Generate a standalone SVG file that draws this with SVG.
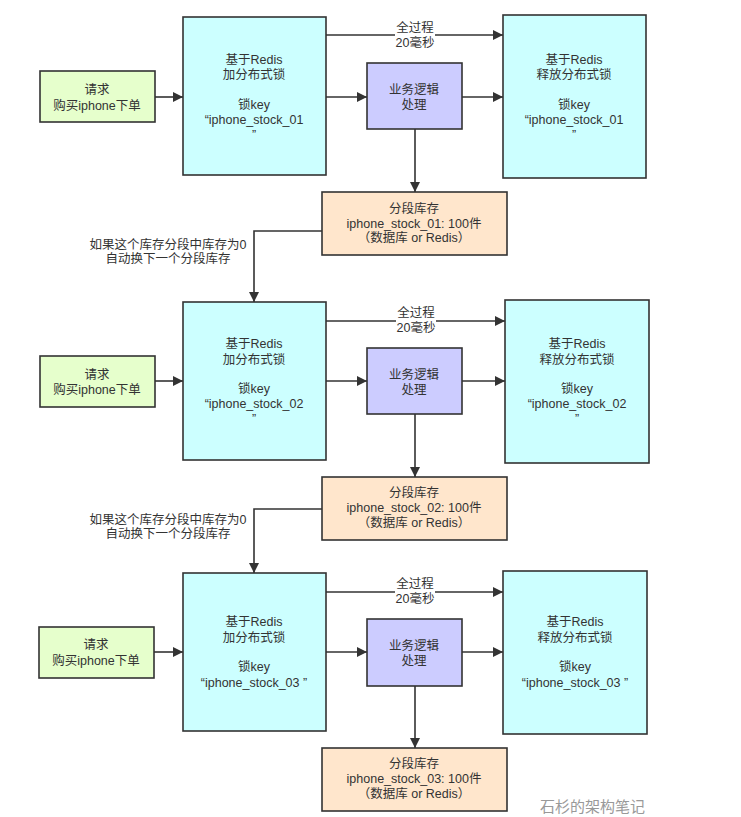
<svg xmlns="http://www.w3.org/2000/svg" width="741" height="817" viewBox="0 0 741 817">
<defs>
<marker id="ah" viewBox="0 0 10 10" refX="10" refY="5" markerWidth="10" markerHeight="10" markerUnits="userSpaceOnUse" orient="auto">
<path d="M0,0 L10,5 L0,10 Z" fill="#333"/>
</marker>
<style>
.box{stroke:#333;stroke-width:1.6}
.req{fill:#e6ffcc}
.lock{fill:#ccffff}
.biz{fill:#ccccff}
.stk{fill:#ffe6cc}
text{font-family:"Liberation Sans","Noto Sans CJK SC",sans-serif;font-size:12.5px;fill:#333;text-anchor:middle}
.ln{fill:none;stroke:#333;stroke-width:1.6;marker-end:url(#ah)}
.wm{font-family:"Liberation Sans","Noto Sans CJK SC",sans-serif;font-size:15px;fill:#999;text-anchor:start}
</style>
</defs>
<rect width="741" height="817" fill="#fff"/>

<g id="connectors">
<!-- section 1 -->
<line class="ln" x1="155" y1="97" x2="183" y2="97"/>
<line class="ln" x1="326" y1="97" x2="367" y2="97"/>
<line class="ln" x1="462" y1="97" x2="503" y2="97"/>
<line class="ln" x1="326" y1="35" x2="503" y2="35"/>
<line class="ln" x1="415" y1="129" x2="415" y2="192"/>
<polyline class="ln" points="322,231 254,231 254,302"/>
<!-- section 2 -->
<line class="ln" x1="155" y1="381" x2="183" y2="381"/>
<line class="ln" x1="326" y1="381" x2="367" y2="381"/>
<line class="ln" x1="462" y1="381" x2="505" y2="381"/>
<line class="ln" x1="326" y1="321" x2="505" y2="321"/>
<line class="ln" x1="415" y1="414" x2="415" y2="477"/>
<polyline class="ln" points="322,509 254,509 254,573"/>
<!-- section 3 -->
<line class="ln" x1="154" y1="652" x2="183" y2="652"/>
<line class="ln" x1="326" y1="652" x2="367" y2="652"/>
<line class="ln" x1="462" y1="652" x2="503" y2="652"/>
<line class="ln" x1="326" y1="592" x2="503" y2="592"/>
<line class="ln" x1="415" y1="686" x2="415" y2="748"/>

<!-- labels -->
<rect x="395" y="22" width="40" height="28" fill="#fff"/>
<text x="415" y="32">全过程</text>
<text x="415" y="47">20毫秒</text>
<rect x="396" y="308" width="40" height="28" fill="#fff"/>
<text x="416" y="317">全过程</text>
<text x="416" y="332">20毫秒</text>
<rect x="395" y="579" width="40" height="28" fill="#fff"/>
<text x="415" y="588">全过程</text>
<text x="415" y="603">20毫秒</text>
<text x="168" y="249">如果这个库存分段中库存为0</text>
<text x="168" y="263">自动换下一个分段库存</text>
<text x="168" y="524">如果这个库存分段中库存为0</text>
<text x="168" y="538">自动换下一个分段库存</text>
</g>

<!-- Section 1 -->
<g id="req1">
<rect class="box req" x="40" y="71" width="115" height="51"/>
<text x="97" y="94">请求</text>
<text x="97" y="110">购买iphone下单</text>
</g>
<g id="lock1">
<rect class="box lock" x="183" y="17" width="143" height="158"/>
<text x="254" y="64">基于Redis</text>
<text x="254" y="79">加分布式锁</text>
<text x="254" y="109">锁key</text>
<text x="254" y="124">“iphone_stock_01</text>
<text x="254" y="139">”</text>
</g>
<g id="biz1">
<rect class="box biz" x="367" y="63" width="95" height="66"/>
<text x="414" y="94">业务逻辑</text>
<text x="414" y="109">处理</text>
</g>
<g id="rel1">
<rect class="box lock" x="503" y="15" width="143" height="163"/>
<text x="574" y="64">基于Redis</text>
<text x="574" y="79">释放分布式锁</text>
<text x="574" y="109">锁key</text>
<text x="574" y="124">“iphone_stock_01</text>
<text x="574" y="139">”</text>
</g>
<g id="stock1">
<rect class="box stk" x="322" y="192" width="185" height="63"/>
<text x="414" y="213">分段库存</text>
<text x="414" y="228">iphone_stock_01: 100件</text>
<text x="414" y="242">（数据库 or Redis）</text>
</g>

<!-- Section 2 -->
<g id="req2">
<rect class="box req" x="40" y="356" width="115" height="51"/>
<text x="97" y="379">请求</text>
<text x="97" y="394">购买iphone下单</text>
</g>
<g id="lock2">
<rect class="box lock" x="183" y="302" width="143" height="158"/>
<text x="254" y="348">基于Redis</text>
<text x="254" y="364">加分布式锁</text>
<text x="254" y="393">锁key</text>
<text x="254" y="408">“iphone_stock_02</text>
<text x="254" y="423">”</text>
</g>
<g id="biz2">
<rect class="box biz" x="367" y="348" width="95" height="66"/>
<text x="414" y="379">业务逻辑</text>
<text x="414" y="394">处理</text>
</g>
<g id="rel2">
<rect class="box lock" x="505" y="300" width="144" height="163"/>
<text x="577" y="348">基于Redis</text>
<text x="577" y="364">释放分布式锁</text>
<text x="577" y="393">锁key</text>
<text x="577" y="408">“iphone_stock_02</text>
<text x="577" y="423">”</text>
</g>
<g id="stock2">
<rect class="box stk" x="322" y="477" width="185" height="63"/>
<text x="414" y="497">分段库存</text>
<text x="414" y="512">iphone_stock_02: 100件</text>
<text x="414" y="527">（数据库 or Redis）</text>
</g>

<!-- Section 3 -->
<g id="req3">
<rect class="box req" x="39" y="627" width="115" height="51"/>
<text x="96" y="649">请求</text>
<text x="96" y="665">购买iphone下单</text>
</g>
<g id="lock3">
<rect class="box lock" x="183" y="573" width="143" height="158"/>
<text x="254" y="626">基于Redis</text>
<text x="254" y="642">加分布式锁</text>
<text x="254" y="671">锁key</text>
<text x="254" y="687">“iphone_stock_03 ”</text>
</g>
<g id="biz3">
<rect class="box biz" x="367" y="619" width="95" height="67"/>
<text x="414" y="650">业务逻辑</text>
<text x="414" y="665">处理</text>
</g>
<g id="rel3">
<rect class="box lock" x="503" y="571" width="144" height="163"/>
<text x="575" y="626">基于Redis</text>
<text x="575" y="642">释放分布式锁</text>
<text x="575" y="671">锁key</text>
<text x="575" y="687">“iphone_stock_03 ”</text>
</g>
<g id="stock3">
<rect class="box stk" x="322" y="748" width="185" height="63"/>
<text x="414" y="768">分段库存</text>
<text x="414" y="783">iphone_stock_03: 100件</text>
<text x="414" y="798">（数据库 or Redis）</text>
</g>

<text class="wm" x="540" y="812">石杉的架构笔记</text>
</svg>
